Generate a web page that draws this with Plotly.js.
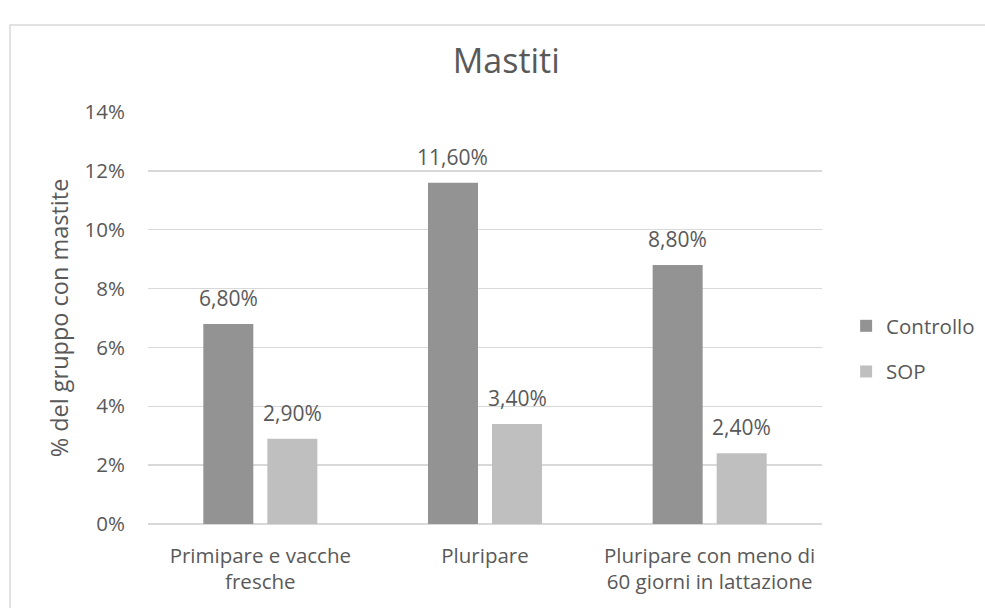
<!DOCTYPE html>
<html>
<head>
<meta charset="utf-8">
<script src="https://cdn.plot.ly/plotly-3.0.1.min.js"></script>
<style>html,body{margin:0;padding:0;background:#fff;}#chart{width:985px;height:608px;}</style>
</head>
<body>
<div id="chart"></div>
<script>
const categories = ["Primipare e vacche<br>fresche", "Pluripare", "Pluripare con meno di<br>60 giorni in lattazione"];
const controllo = [6.8, 11.6, 8.8];
const sop = [2.9, 3.4, 2.4];
const yTicks = [0, 2, 4, 6, 8, 10, 12, 14];
const yTickText = ["0%", "2%", "4%", "6%", "8%", "10%", "12%", "14%"];

const fmt = v => v.toFixed(2).replace('.', ',') + '%';
const FONT = '"Open Sans", "Noto Sans", sans-serif';
const TXT = '#595959';
const BARGAP = 0.43;
const slot = (1 - BARGAP) / 2;   // width of each bar slot in category units

const traces = [
  {type: 'bar', name: 'Controllo', legendgroup: 'a', x: categories, y: controllo,
   marker: {color: '#939393'}, hoverinfo: 'skip'},
  {type: 'bar', name: 'SOP', legendgroup: 'b', x: categories, y: sop,
   marker: {color: '#bfbfbf'}, hoverinfo: 'skip'}
];

const annotations = [];
[controllo, sop].forEach((series, s) => {
  series.forEach((v, i) => {
    annotations.push({
      xref: 'x', yref: 'y', x: i + (s === 0 ? -slot / 2 : slot / 2), y: v,
      text: fmt(v), showarrow: false, xanchor: 'center', yanchor: 'bottom', yshift: 10,
      font: {family: FONT, size: 21, color: TXT}
    });
  });
});

const layout = {
  width: 985, height: 608,
  margin: {l: 148, r: 163, t: 112, b: 84, autoexpand: false},
  paper_bgcolor: '#ffffff', plot_bgcolor: '#ffffff',
  font: {family: FONT, color: TXT, size: 20},
  title: {text: 'Mastiti', font: {family: FONT, size: 34, color: TXT}, x: 0.514, xref: 'container', xanchor: 'center', y: 0.9, yanchor: 'middle'},
  barmode: 'group', bargap: BARGAP, bargroupgap: 0.219,
  xaxis: {showgrid: false, zeroline: false, showline: false, ticks: '', fixedrange: true,
          ticklabelstandoff: 17, tickfont: {family: FONT, size: 20.5, color: TXT}},
  yaxis: {range: [0, 14], tickmode: 'array', tickvals: yTicks, ticktext: yTickText, showgrid: true, gridcolor: '#d9d9d9', gridwidth: 1.5,
          zeroline: true, zerolinecolor: '#d9d9d9', zerolinewidth: 1.5, showline: false, ticks: '',
          ticklabelstandoff: 22, tickfont: {family: FONT, size: 20.5, color: TXT},
          title: {text: '% del gruppo con mastite', font: {family: FONT, size: 23.5, color: TXT}, standoff: 9}},
  legend: {xref: 'container', x: 0.859, xanchor: 'left', yref: 'container', y: 0.426, yanchor: 'middle',
           font: {family: FONT, size: 20.5, color: TXT}, traceorder: 'grouped',
           tracegroupgap: 16, itemwidth: 30, bgcolor: 'rgba(0,0,0,0)'},
  showlegend: true,
  annotations: annotations,
  shapes: [{type: 'rect', xref: 'paper', yref: 'paper', x0: -0.2047, x1: 1.26, y0: -0.25, y1: 1.211,
            line: {color: '#d9d9d9', width: 1.5}, fillcolor: 'rgba(0,0,0,0)', layer: 'below'}]
};

Plotly.newPlot('chart', traces, layout, {staticPlot: true, displayModeBar: false});
</script>
</body>
</html>
